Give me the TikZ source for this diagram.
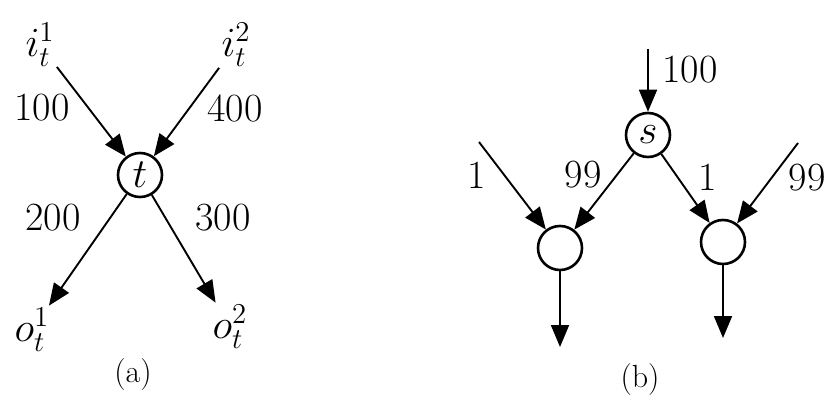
\documentclass[tikz,border=0pt]{standalone}
\usepackage{tikz}
\usetikzlibrary{arrows.meta}

\begin{document}
\begin{tikzpicture}[
  x=0.5pt, y=-0.5pt,
  vertex/.style={
    circle,
    draw,
    line width=1.3pt,
    minimum size=22pt,
    inner sep=0pt,
    font=\fontsize{20}{24}\selectfont
  },
  lbl/.style={font=\fontsize{20}{24}\selectfont, inner sep=1pt},
  caption/.style={font=\fontsize{16}{19}\selectfont},
  arrow/.style={-{Triangle[length=11pt, width=9pt]}, line width=0.95pt}
]
\useasboundingbox (0,0) rectangle (829,401);
% (a) one node with two inputs and two outputs
\node[vertex] (t) at (140,175) {$t$};
\node[lbl] (in1) at (40,45) {$i_t^1$};
\node[lbl] (in2) at (236,45) {$i_t^2$};
\node[lbl] (out1) at (32,330) {$o_t^1$};
\node[lbl] (out2) at (230,327) {$o_t^2$};
\draw[arrow] (in1) -- (t);
\draw[arrow] (in2) -- (t);
\draw[arrow] (t) -- (out1);
\draw[arrow] (t) -- (out2);
\node[lbl] (w100) at (42,108) {100};
\node[lbl] (w400) at (235,108) {400};
\node[lbl] (w200) at (53,218) {200};
\node[lbl] (w300) at (223,218) {300};
\node[caption] (capa) at (133,375) {(a)};
% (b) split at s
\node[vertex] (s) at (648,135) {$s$};
\node[vertex] (left) at (560,248) {};
\node[vertex] (right) at (723,242) {};
\coordinate (top) at (648,49);
\coordinate (inl) at (479,142);
\coordinate (inr) at (798,143);
\coordinate (outl) at (560,347);
\coordinate (outr) at (723,338);
\draw[arrow] (top) -- (s);
\draw[arrow] (s) -- (left);
\draw[arrow] (s) -- (right);
\draw[arrow] (inl) -- (left);
\draw[arrow] (inr) -- (right);
\draw[arrow] (left) -- (outl);
\draw[arrow] (right) -- (outr);
\node[lbl] (v100) at (690,70) {100};
\node[lbl] (v1l) at (477,175) {1};
\node[lbl] (v99l) at (583,175) {99};
\node[lbl] (v1r) at (708,177) {1};
\node[lbl] (v99r) at (807,178) {99};
\node[caption] (capb) at (640,380) {(b)};
\end{tikzpicture}
\end{document}
